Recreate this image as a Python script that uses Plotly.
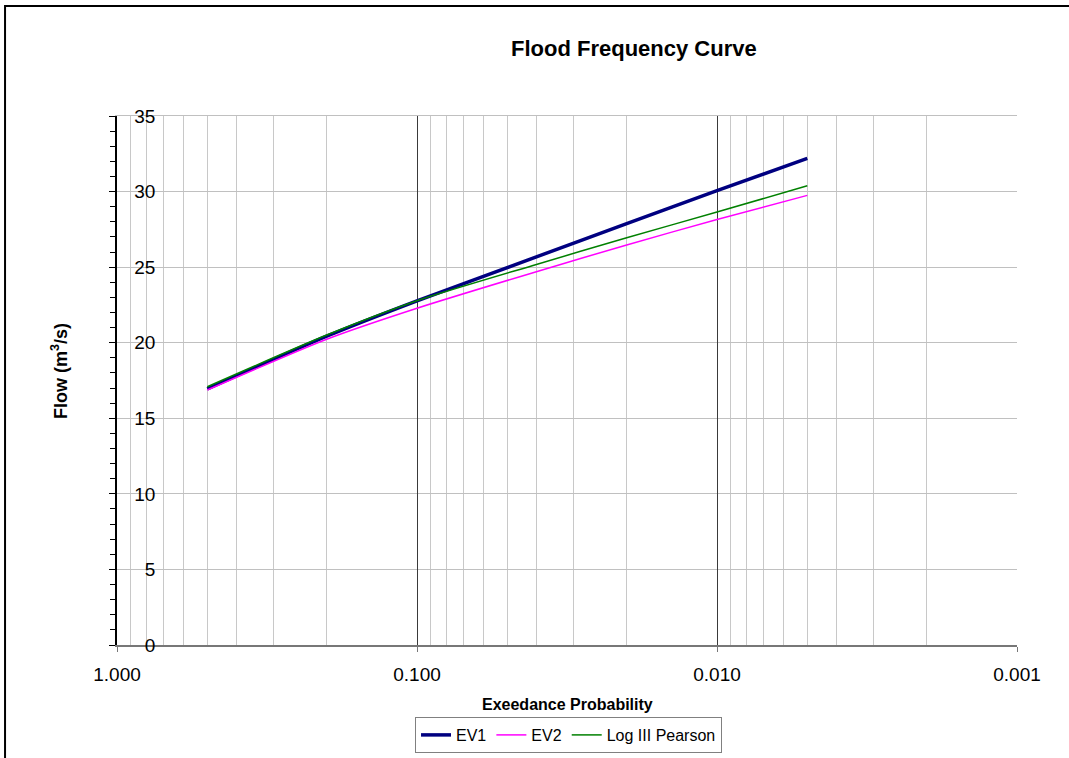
import plotly.graph_objects as go

# Exceedance probabilities (return periods 2,5,10,25,50,100,200 yr)
prob = [0.5, 0.2, 0.1, 0.04, 0.02, 0.01, 0.005]
ev1 = [16.94, 20.43, 22.77, 25.68, 27.88, 30.06, 32.20]
ev2 = [16.87, 20.23, 22.28, 24.70, 26.47, 28.15, 29.75]
lp3 = [17.09, 20.51, 22.78, 25.18, 26.94, 28.65, 30.38]

x_tickvals = [1, 0.1, 0.01, 0.001]
x_ticktext = ["1.000", "0.100", "0.010", "0.001"]
minor_vals = [m * d for d in (0.1, 0.01, 0.001) for m in range(2, 10)]

FONT = "Liberation Sans, Arial, sans-serif"

fig = go.Figure()
fig.add_trace(go.Scatter(x=prob, y=ev1, mode="lines", name="EV1",
                         line=dict(color="#000080", width=3.5, shape="spline", smoothing=0.7)))
fig.add_trace(go.Scatter(x=prob, y=ev2, mode="lines", name="EV2",
                         line=dict(color="#FF00FF", width=1.5, shape="spline", smoothing=0.7)))
fig.add_trace(go.Scatter(x=prob, y=lp3, mode="lines", name="Log III Pearson",
                         line=dict(color="#008000", width=1.5, shape="spline", smoothing=0.7),
                         xaxis="x2"))

fig.update_layout(
    width=1069, height=758,
    margin=dict(l=117, r=52, t=116, b=113, autoexpand=False),
    paper_bgcolor="white", plot_bgcolor="white",
    font=dict(family=FONT, color="black"),
    showlegend=True,
    legend=dict(orientation="h", x=0.5017, y=-0.1361, xanchor="center", yanchor="top",
                bordercolor="#808080", borderwidth=1, font=dict(size=16, family=FONT),
                itemwidth=30, tracegroupgap=0),
    xaxis=dict(type="log", range=[0, -3], tickmode="array", tickvals=x_tickvals,
               ticktext=x_ticktext, ticks="outside", ticklen=5, tickcolor="#777777",
               showline=True, linecolor="#777777", linewidth=1.5, showgrid=False,
               zeroline=False, tickfont=dict(size=19, family=FONT),
               ticklabelstandoff=6,
               minor=dict(tickmode="array", tickvals=minor_vals, showgrid=True,
                          gridcolor="#c8c8c8", gridwidth=1, ticks="")),
    xaxis2=dict(type="log", range=[0, -3], overlaying="x", matches="x", anchor="y",
                side="top", tickmode="array", tickvals=[0.1, 0.01], showgrid=True,
                gridcolor="#3a3a3a", gridwidth=1, showticklabels=False, ticks="",
                showline=True, linecolor="#c0c0c0", linewidth=1, zeroline=False),
    yaxis=dict(range=[0, 35], dtick=5, ticks="outside", ticklen=6, tickcolor="black",
               showline=True, linecolor="black", linewidth=1.5, showgrid=True,
               gridcolor="#c0c0c0", gridwidth=1, zeroline=False,
               ticklabelposition="outside", ticklabelstandoff=-50,
               tickfont=dict(size=19, family=FONT),
               minor=dict(dtick=1, ticks="outside", ticklen=5, tickcolor="black",
                          showgrid=False)),
    annotations=[
        dict(text="<b>Flood Frequency Curve</b>", xref="paper", yref="paper",
             x=0.5744, y=1.1285, xanchor="center", yanchor="middle", showarrow=False,
             font=dict(size=22, family=FONT)),
        dict(text="<b>Exeedance Probability</b>", xref="paper", yref="paper",
             x=0.501, y=-0.1134, xanchor="center", yanchor="middle", showarrow=False,
             font=dict(size=16, family=FONT)),
        dict(text="<b>Flow (m<sup>3</sup>/s)</b>", xref="paper", yref="paper",
             x=-0.0633, y=0.518, xanchor="center", yanchor="middle", showarrow=False,
             textangle=-90, font=dict(size=18, family=FONT)),
    ],
    shapes=[
        dict(type="rect", xref="paper", yref="paper", x0=-0.1244, x1=1.07,
             y0=-0.23, y1=1.2079, line=dict(color="black", width=2),
             fillcolor="rgba(0,0,0,0)", layer="above"),
    ],
)

fig.write_html("out.html", config={"displayModeBar": False},
               post_script="document.body.style.margin='0';document.body.style.overflow='hidden';")
